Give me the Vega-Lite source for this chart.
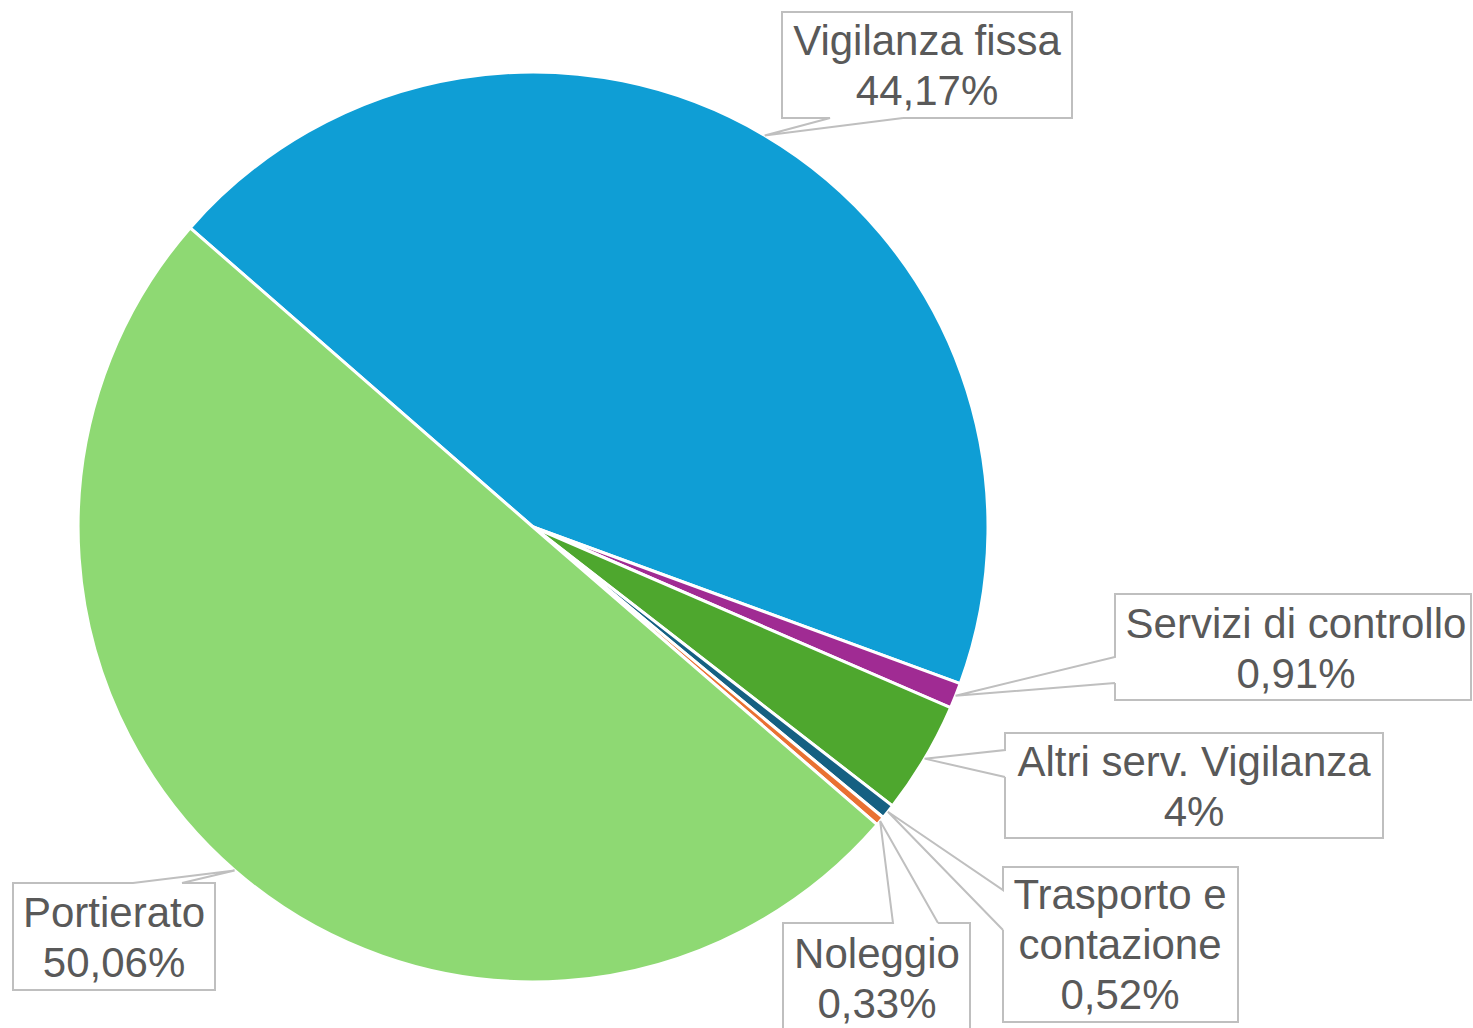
{
  "$schema": "https://vega.github.io/schema/vega-lite/v6.json",
  "width": 1473,
  "height": 1028,
  "autosize": {"type": "none"},
  "padding": 0,
  "background": "white",
  "config": {"view": {"stroke": null}},
  "data": {
    "values": [
      {"category": "Vigilanza fissa", "value": 44.17, "ord": 1},
      {"category": "Servizi di controllo", "value": 0.91, "ord": 2},
      {"category": "Altri serv. Vigilanza", "value": 4, "ord": 3},
      {"category": "Trasporto e contazione", "value": 0.52, "ord": 4},
      {"category": "Noleggio", "value": 0.33, "ord": 5},
      {"category": "Portierato", "value": 50.06, "ord": 6}
    ]
  },
  "layer": [
    {
      "mark": {"type": "arc", "radius": 455, "stroke": "white", "strokeWidth": 3},
      "encoding": {
        "x": {"datum": 0, "type": "quantitative", "scale": {"domain": [-533, 940], "nice": false, "zero": false}, "axis": null},
        "y": {"datum": 0, "type": "quantitative", "scale": {"domain": [-527, 501], "nice": false, "zero": false, "reverse": true}, "axis": null},
        "theta": {"field": "value", "type": "quantitative", "stack": true, "scale": {"range": [5.4297, 11.7129]}},
        "order": {"field": "ord", "type": "quantitative"},
        "color": {
          "field": "category",
          "type": "nominal",
          "scale": {
            "domain": ["Vigilanza fissa", "Servizi di controllo", "Altri serv. Vigilanza", "Trasporto e contazione", "Noleggio", "Portierato"],
            "range": ["#0F9ED5", "#A02B93", "#4EA72E", "#156082", "#E97132", "#8ED973"]
          },
          "legend": null
        }
      }
    },
    {
      "transform": [
        {"joinaggregate": [{"op": "sum", "field": "value", "as": "total"}]},
        {"window": [{"op": "sum", "field": "value", "as": "cum"}], "sort": [{"field": "ord", "order": "ascending"}], "frame": [null, 0]},
        {"calculate": "5.4297 + 2 * PI * (datum.cum - datum.value / 2) / datum.total", "as": "ang"},
        {"calculate": "[[[370,-409,0],[539,-409,1],[539,-515,2],[249,-515,3],[249,-409,4],[297,-409,5],[0,0,6,1],[370,-409,7]],[[582,156,0],[582,173,1],[938,173,2],[938,67,3],[582,67,4],[582,130,5],[0,0,6,1],[582,156,7]],[[472,250,0],[472,311,1],[850,311,2],[850,206,3],[472,206,4],[472,223,5],[0,0,6,1],[472,250,7]],[[470,403,0],[470,495,1],[705,495,2],[705,340,3],[470,340,4],[470,363,5],[0,0,6,1],[470,403,7]],[[405,396,0],[437,396,1],[437,513,2],[250,513,3],[250,396,4],[360,396,5],[0,0,6,1],[405,396,7]],[[-351,356,0],[-318,356,1],[-318,463,2],[-520,463,3],[-520,356,4],[-400,356,5],[0,0,6,1],[-351,356,7]]][datum.ord - 1]", "as": "verts"},
        {"flatten": ["verts"], "as": ["pt"]},
        {"calculate": "datum.pt[3] == 1 ? 455 * sin(datum.ang) : datum.pt[0]", "as": "vx"},
        {"calculate": "datum.pt[3] == 1 ? -455 * cos(datum.ang) : datum.pt[1]", "as": "vy"},
        {"calculate": "datum.pt[2]", "as": "vi"}
      ],
      "mark": {"type": "line", "stroke": "#BFBFBF", "strokeWidth": 2, "strokeJoin": "miter"},
      "encoding": {
        "x": {"field": "vx", "type": "quantitative", "scale": {"domain": [-533, 940], "nice": false, "zero": false}, "axis": null},
        "y": {"field": "vy", "type": "quantitative", "scale": {"domain": [-527, 501], "nice": false, "zero": false, "reverse": true}, "axis": null},
        "detail": {"field": "category", "type": "nominal"},
        "order": {"field": "vi", "type": "quantitative"}
      }
    },
    {
      "transform": [
        {"calculate": "[[394,-485],[763,98],[661,236],[587,369],[344,428],[-419,387]][datum.ord - 1]", "as": "tc"},
        {"calculate": "datum.tc[0]", "as": "tx"},
        {"calculate": "datum.tc[1]", "as": "ty"},
        {"calculate": "replace(datum.category, 'Trasporto e ', 'Trasporto e\\n') + '\\n' + replace(toString(datum.value), '.', ',') + '%'", "as": "lab"}
      ],
      "mark": {"type": "text", "font": "Liberation Sans", "fontSize": 42, "color": "#595959", "align": "center", "baseline": "middle", "lineBreak": "\n", "lineHeight": 50},
      "encoding": {
        "x": {"field": "tx", "type": "quantitative", "scale": {"domain": [-533, 940], "nice": false, "zero": false}, "axis": null},
        "y": {"field": "ty", "type": "quantitative", "scale": {"domain": [-527, 501], "nice": false, "zero": false, "reverse": true}, "axis": null},
        "text": {"field": "lab", "type": "nominal"}
      }
    }
  ]
}
